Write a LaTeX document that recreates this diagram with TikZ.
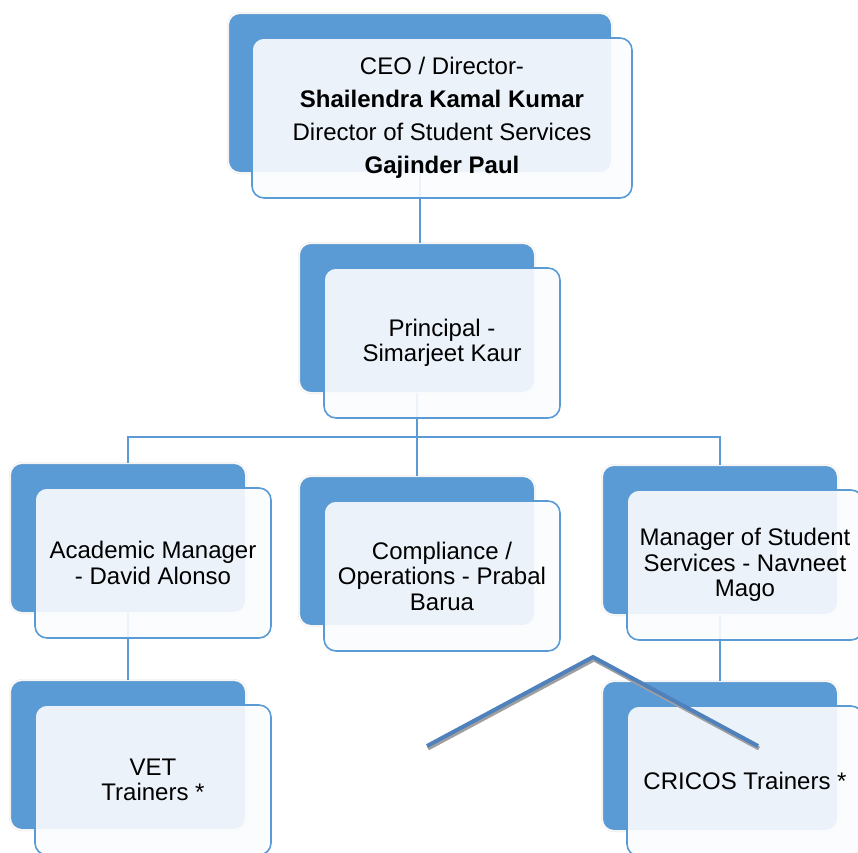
\documentclass[tikz,border=0pt]{standalone}
\usepackage{fontspec}
\setmainfont{Liberation Sans}
\usetikzlibrary{positioning}
\definecolor{boxblue}{HTML}{5B9BD5}
\definecolor{lineblue}{HTML}{4F81BD}
\definecolor{paleblue}{HTML}{FBFCFE}

\begin{document}
\begin{tikzpicture}
[x=1pt,y=-1pt,
back/.style={rectangle,rounded corners=12pt,fill=boxblue,draw=black!12,double=white,double distance=1.2pt,minimum width=236pt,minimum height=150pt},
front/.style={rectangle,rounded corners=12pt,fill=paleblue,fill opacity=.9,text opacity=1,draw=boxblue,line width=1.6pt,minimum width=236pt,minimum height=150pt,align=center,font=\fontsize{24}{25.5}\selectfont,xshift=25pt,yshift=-25pt},
link/.style={draw=boxblue,line width=1.8pt}]
\clip (0,0) rectangle (858,852);

\node[back,minimum width=384pt,minimum height=160pt] (ceoB) at (420,93) {};
\node[back] (prinB) at (417,318) {};
\node[back] (acadB) at (128,538) {};
\node[back] (compB) at (417,551) {};
\node[back] (mgrB) at (720,540) {};
\node[back] (vetB) at (128,755) {};
\node[back] (cricB) at (720,756) {};

\coordinate (bus) at (417,437);
\draw[link] (ceoB.south) -- (ceoB.south |- prinB.north);
\draw[link] (prinB.south) -- (bus);
\draw[link] (acadB.north) |- (bus) -| (mgrB.north);
\draw[link] (bus) -- (compB.north);
\draw[link] (acadB.south) -- (vetB.north);
\draw[link] (mgrB.south) -- (cricB.north);

\node[front,minimum width=380pt,minimum height=160pt,font=\fontsize{24}{33}\selectfont,xshift=-3pt] (ceo) at (ceoB)
{CEO / Director-\\\textbf{Shailendra Kamal Kumar}\\Director of Student Services\\\textbf{Gajinder Paul}};
\node[front] (prin) at (prinB) {Principal -\\Simarjeet Kaur};
\node[front] (acad) at (acadB) {Academic Manager\\- David Alonso};
\node[front] (comp) at (compB) {Compliance /\\Operations - Prabal\\Barua};
\node[front] (mgr) at (mgrB) {Manager of Student\\Services - Navneet\\Mago};
\node[front] (vet) at (vetB) {VET\\Trainers *};
\node[front] (cric) at (cricB) {CRICOS Trainers *};

% stray chevron with its shadow
\coordinate (chL) at (427,746);
\coordinate (chT) at (593,657);
\coordinate (chR) at (758,746);
\draw[gray!75,line width=4pt,transform canvas={xshift=1pt,yshift=-2.5pt}] (chL) -- (chT) -- (chR);
\draw[lineblue,line width=4pt] (chL) -- (chT) -- (chR);
\end{tikzpicture}
\end{document}
